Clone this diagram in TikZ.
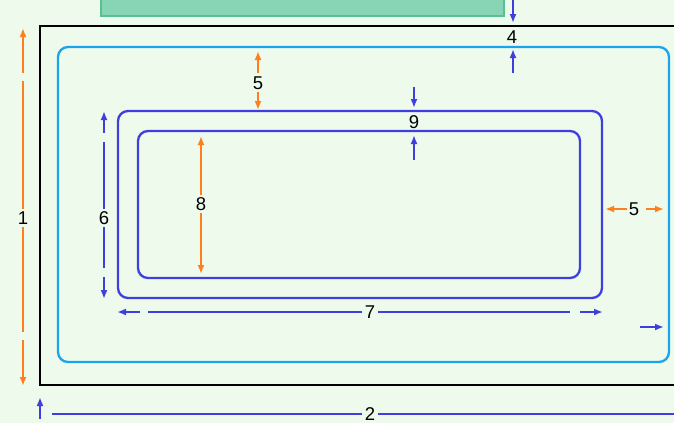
\documentclass[tikz,border=0pt]{standalone}
\usepackage{fontspec}
\setmainfont{Liberation Sans}
\usetikzlibrary{arrows.meta}
\definecolor{paper}{HTML}{EDFAEC}
\definecolor{sheetgreen}{HTML}{88D5B5}
\definecolor{sheetedge}{HTML}{5CBF94}
\definecolor{cyanframe}{HTML}{1AA4F0}
\definecolor{dimblue}{HTML}{3F3FDF}
\definecolor{dimorange}{HTML}{FF7F1E}
\tikzset{
  dimlabel/.style={inner sep=2.5pt, font=\fontsize{18.5}{20}\selectfont},
  blueline/.style={dimblue, line width=2.4pt},
  orangeline/.style={dimorange, line width=2.4pt},
  bluearrow/.style={blueline, -{Latex[length=9pt, width=7pt]}},
  orangearrow/.style={orangeline, -{Latex[length=9pt, width=7pt]}},
  frame/.style={draw, inner sep=0pt, fill=none}
}
\begin{document}
\begin{tikzpicture}[x=1pt, y=-1pt]
                \fill[paper] (0,0) rectangle (674,423);
                \useasboundingbox (0,0) rectangle (674,423);
                \clip (0,0) rectangle (674,423);

                % frames
                \node[frame, sheetedge, fill=sheetgreen, line width=1.5pt, minimum width=403pt, minimum height=40pt] (sheet) at (302.5,-4) {};
                \node[frame, black, line width=2.6pt, minimum width=660pt, minimum height=359pt] (page) at (370,205.5) {};
                \node[frame, cyanframe, line width=2.3pt, rounded corners=10pt, minimum width=611pt, minimum height=315pt] (margin) at (363.5,204.5) {};
                \node[frame, dimblue, line width=2.3pt, rounded corners=10pt, minimum width=484pt, minimum height=187pt] (outerbox) at (360,204.5) {};
                \node[frame, dimblue, line width=2.3pt, rounded corners=10pt, minimum width=442pt, minimum height=147pt] (innerbox) at (359,204.5) {};

                % labels
                \node[dimlabel] (l1) at (23,218) {1};
                \node[dimlabel] (l2) at (370,414) {2};
                \node[dimlabel] (l4) at (512,37) {4};
                \node[dimlabel] (l5top) at (258,83) {5};
                \node[dimlabel] (l5right) at (634,209) {5};
                \node[dimlabel] (l6) at (104,218) {6};
                \node[dimlabel] (l7) at (370,312) {7};
                \node[dimlabel] (l8) at (201,204) {8};
                \node[dimlabel] (l9) at (414,122) {9};

                % end points
                \coordinate (d1top) at (23,28);
                \coordinate (d1topk) at (23,73);
                \coordinate (d1botk) at (23,340);
                \coordinate (d1bot) at (23,386);
                \coordinate (d2left) at (52,414);
                \coordinate (d2right) at (680,414);
                \coordinate (d2tick) at (40,419);
                \coordinate (d2tip) at (40,397);
                \coordinate (d4top) at (513,-2);
                \coordinate (d4topk) at (513,23);
                \coordinate (d4bot) at (513,73);
                \coordinate (d4botk) at (513,49);
                \coordinate (d5top) at (258,73);
                \coordinate (d5topk) at (258,51);
                \coordinate (d5bot) at (258,92);
                \coordinate (d5botk) at (258,110);
                \coordinate (d5left) at (627,209);
                \coordinate (d5leftk) at (605,209);
                \coordinate (d5right) at (646,209);
                \coordinate (d5rightk) at (664,209);
                \coordinate (d6topk) at (104,133);
                \coordinate (d6top) at (104,111);
                \coordinate (d6botk) at (104,277);
                \coordinate (d6bot) at (104,299);
                \coordinate (d7leftk) at (140,312);
                \coordinate (d7left) at (117,312);
                \coordinate (d7rightk) at (580,312);
                \coordinate (d7right) at (603,312);
                \coordinate (d8top) at (201,136);
                \coordinate (d8bot) at (201,274);
                \coordinate (d9top) at (414,87);
                \coordinate (d9topk) at (414,108);
                \coordinate (d9bot) at (414,160);
                \coordinate (d9botk) at (414,135);
                \coordinate (gutter) at (640,327);
                \coordinate (gutterk) at (664,327);

                % dimension 1
                \draw[orangearrow] (d1topk) -- (d1top);
                \draw[orangeline, shorten >=8pt] (l1) -- (d1topk);
                \draw[orangeline, shorten >=8pt] (l1) -- (d1botk);
                \draw[orangearrow] (d1botk) -- (d1bot);

                % dimension 2
                \draw[blueline] (l2) -- (d2left);
                \draw[blueline] (l2) -- (d2right);
                \draw[bluearrow] (d2tick) -- (d2tip);

                % dimension 4
                \draw[bluearrow] (d4top) -- (d4topk);
                \draw[bluearrow] (d4bot) -- (d4botk);

                % dimension 5
                \draw[orangearrow] (d5top) -- (d5topk);
                \draw[orangearrow] (d5bot) -- (d5botk);
                \draw[orangearrow] (d5left) -- (d5leftk);
                \draw[orangearrow] (d5right) -- (d5rightk);

                % dimension 6
                \draw[bluearrow] (d6topk) -- (d6top);
                \draw[blueline, shorten >=9pt] (l6) -- (d6topk);
                \draw[blueline, shorten >=9pt] (l6) -- (d6botk);
                \draw[bluearrow] (d6botk) -- (d6bot);

                % dimension 7
                \draw[bluearrow] (d7leftk) -- (d7left);
                \draw[blueline, shorten >=8pt] (l7) -- (d7leftk);
                \draw[blueline, shorten >=10pt] (l7) -- (d7rightk);
                \draw[bluearrow] (d7rightk) -- (d7right);

                % dimension 8
                \draw[orangearrow] (l8) -- (d8top);
                \draw[orangearrow] (l8) -- (d8bot);

                % dimension 9
                \draw[bluearrow] (d9top) -- (d9topk);
                \draw[bluearrow] (d9bot) -- (d9botk);

                \draw[bluearrow] (gutter) -- (gutterk);
            \end{tikzpicture}
\end{document}
